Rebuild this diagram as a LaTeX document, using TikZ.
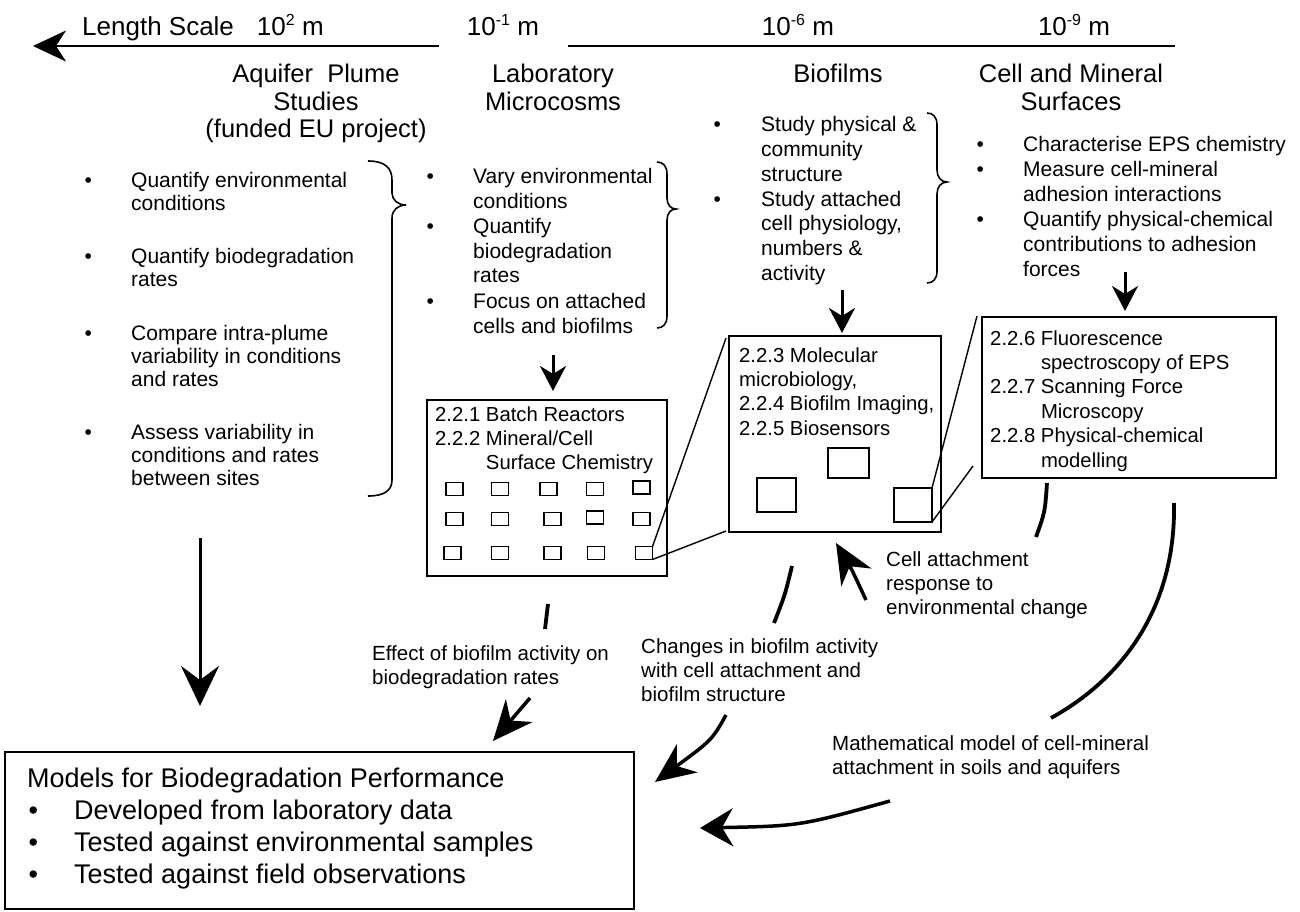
\documentclass[tikz,border=0pt]{standalone}
\usepackage{fontspec}
\setmainfont{Liberation Sans}
\usetikzlibrary{arrows.meta}
\newcommand\mybul[1]{\makebox[#1][l]{\textbullet}}
\newcommand\myind[1]{\hspace*{#1}}
\newcommand\tlft[1]{\begin{tabular}[t]{@{}l@{}}#1\end{tabular}}
\newcommand\tctr[1]{\begin{tabular}[t]{@{}c@{}}#1\end{tabular}}
\newcommand\mysup[1]{\raisebox{0.42em}{\fontsize{16}{16}\selectfont #1}}
\begin{document}
\begin{tikzpicture}[x=1pt,y=-1pt,
  hdr/.style={anchor=base west,inner sep=0pt,font=\fontsize{26}{30}\selectfont},
  ttl/.style={anchor=base,inner sep=0pt,font=\fontsize{25.5}{27.5}\selectfont},
  lst/.style={anchor=base west,inner sep=0pt,font=\fontsize{21}{25}\selectfont},
  btx/.style={anchor=base west,inner sep=0pt,font=\fontsize{20.3}{24.4}\selectfont},
  lbl/.style={anchor=base west,inner sep=0pt,font=\fontsize{20.5}{24}\selectfont},
  box/.style={draw,line width=1.8pt,anchor=north west,inner sep=0pt,outer sep=0pt},
  sq/.style={draw,line width=1.7pt,inner sep=0pt,outer sep=0pt,minimum width=17pt,minimum height=13pt},
  bsq/.style={draw,line width=1.6pt,inner sep=0pt,outer sep=0pt},
  brace/.style={line width=1.6pt},
  zl/.style={line width=1.4pt},
  sarr/.style={line width=3pt,-{Stealth[length=25pt,width=26pt,inset=8pt]}},
  barr/.style={line width=3.5pt,-{Stealth[length=40pt,width=35pt,inset=13pt]}},
  arc/.style={line width=3.8pt}
]
\useasboundingbox (0,0) rectangle (1300,912);

% ---------- length scale axis ----------
\node[hdr] (ls) at (82,36) {Length Scale\hspace{23pt}10\mysup{2} m};
\node[hdr,anchor=base] (s1) at (503,36) {10\mysup{-1} m};
\node[hdr,anchor=base] (s6) at (798,36) {10\mysup{-6} m};
\node[hdr,anchor=base] (s9) at (1074,36) {10\mysup{-9} m};
\coordinate (axR) at (1175,46);
\coordinate (axG2) at (568,46);
\coordinate (axG1) at (439,46);
\coordinate (axL) at (33,46);
\draw[line width=2pt] (axR) -- (axG2);
\draw[line width=2pt,-{Stealth[length=33pt,width=31pt,inset=10pt]}] (axG1) -- (axL);

% ---------- column titles ----------
\node[ttl] (taq) at (316,83) {\tctr{Aquifer\ \ Plume\\Studies\\(funded EU project)}};
\node[ttl] (tlab) at (553,83) {\tctr{Laboratory\\Microcosms}};
\node[ttl] (tbio) at (838,83) {Biofilms};
\node[ttl] (tcell) at (1071,83) {\tctr{Cell and Mineral\\Surfaces}};

% ---------- bullet lists ----------
\node[lst,font=\fontsize{21}{23}\selectfont] (laq) at (84.3,188) {\tlft{%
\mybul{46.7pt}Quantify environmental\\\myind{46.7pt}conditions\\[30pt]
\mybul{46.7pt}Quantify biodegradation\\\myind{46.7pt}rates\\[30pt]
\mybul{46.7pt}Compare intra-plume\\\myind{46.7pt}variability in conditions\\\myind{46.7pt}and rates\\[30pt]
\mybul{46.7pt}Assess variability in\\\myind{46.7pt}conditions and rates\\\myind{46.7pt}between sites}};

\node[lst] (llab) at (426.3,183) {\tlft{%
\mybul{46.7pt}Vary environmental\\\myind{46.7pt}conditions\\
\mybul{46.7pt}Quantify\\\myind{46.7pt}biodegradation\\\myind{46.7pt}rates\\
\mybul{46.7pt}Focus on attached\\\myind{46.7pt}cells and biofilms}};

\node[lst,font=\fontsize{21}{24.7}\selectfont] (lbio) at (713.3,132) {\tlft{%
\mybul{47.7pt}Study physical \&\\\myind{47.7pt}community\\\myind{47.7pt}structure\\
\mybul{47.7pt}Study attached\\\myind{47.7pt}cell physiology,\\\myind{47.7pt}numbers \&\\\myind{47.7pt}activity}};

\node[lst] (lcell) at (976.3,152) {\tlft{%
\mybul{46.7pt}Characterise EPS chemistry\\
\mybul{46.7pt}Measure cell-mineral\\\myind{46.7pt}adhesion interactions\\
\mybul{46.7pt}Quantify physical-chemical\\\myind{46.7pt}contributions to adhesion\\\myind{46.7pt}forces}};

% ---------- braces ----------
\draw[brace] (368,161) .. controls (385,161) and (392,168) .. (392,180) -- (392,193)
  .. controls (392,200) and (398,205) .. (406,205)
  .. controls (398,205) and (392,210) .. (392,218) -- (392,480)
  .. controls (392,490) and (385,496) .. (368,496);
\draw[brace] (657,162) .. controls (663,162) and (667,166) .. (667,174) -- (667,198)
  .. controls (667,205) and (671,209) .. (676,209)
  .. controls (671,209) and (667,213) .. (667,220) -- (667,316)
  .. controls (667,324) and (663,328) .. (657,328);
\draw[brace] (927,113) .. controls (933,113) and (937,117) .. (937,125) -- (937,170)
  .. controls (937,177) and (941,182) .. (947,182)
  .. controls (941,182) and (937,187) .. (937,194) -- (937,271)
  .. controls (937,279) and (933,283) .. (927,283);

% ---------- boxes ----------
\node[box,minimum width=240pt,minimum height=176pt] (batch) at (427,400) {};
\node[box,minimum width=212pt,minimum height=196pt] (bio) at (729,336) {};
\node[box,minimum width=294pt,minimum height=161pt] (cell) at (982,317) {};
\node[box,minimum width=629pt,minimum height=157pt] (models) at (5,752) {};

\node[btx] (batchT) at (435,421) {\tlft{2.2.1 Batch Reactors\\2.2.2 Mineral/Cell\\\phantom{2.2.2 }Surface Chemistry}};
\node[btx] (bioT) at (739,362) {\tlft{2.2.3 Molecular\\microbiology,\\2.2.4 Biofilm Imaging,\\2.2.5 Biosensors}};
\node[btx] (cellT) at (990,345) {\tlft{2.2.6 Fluorescence\\\phantom{2.2.6 }spectroscopy of EPS\\2.2.7 Scanning Force\\\phantom{2.2.7 }Microscopy\\2.2.8 Physical-chemical\\\phantom{2.2.8 }modelling}};

\node[anchor=base west,inner sep=0pt,font=\fontsize{27}{32.3}\selectfont] (modelsT) at (27,787) {\tlft{%
Models for Biodegradation Performance\\
\hspace*{1.3pt}\mybul{45.7pt}Developed from laboratory data\\
\hspace*{1.3pt}\mybul{45.7pt}Tested against environmental samples\\
\hspace*{1.3pt}\mybul{45.7pt}Tested against field observations}};

% ---------- small squares in batch box ----------
\node[sq] (s11) at (454.5,489) {};
\node[sq] (s12) at (500,489) {};
\node[sq] (s13) at (548.5,489) {};
\node[sq] (s14) at (595,489) {};
\node[sq] (s15) at (641.5,487.5) {};
\node[sq] (s21) at (454.5,519) {};
\node[sq] (s22) at (500,519) {};
\node[sq] (s23) at (552.5,519) {};
\node[sq] (s24) at (595,517.5) {};
\node[sq] (s25) at (641.5,519) {};
\node[sq] (s31) at (452.5,553) {};
\node[sq] (s32) at (500,553) {};
\node[sq] (s33) at (552.5,553) {};
\node[sq] (s34) at (596,553) {};
\node[sq] (s35) at (644,553) {};

% ---------- squares in biofilm box ----------
\node[bsq,minimum width=41pt,minimum height=30pt] (bA) at (848.5,463) {};
\node[bsq,minimum width=39pt,minimum height=34pt] (bB) at (776.5,495) {};
\node[bsq,minimum width=38pt,minimum height=34pt] (bC) at (913,505) {};

% ---------- zoom lines ----------
\coordinate (z1) at (726,338);
\coordinate (z2) at (726,531);
\coordinate (z3) at (977,316);
\coordinate (z4) at (973,466);
\draw[zl] (s35.north east) -- (z1);
\draw[zl] (s35.south east) -- (z2);
\draw[zl] (bC.north east) -- (z3);
\draw[zl] (bC.south east) -- (z4);

% ---------- straight down arrows ----------
\coordinate (labA) at (553,355);
\coordinate (labB) at (553,391);
\coordinate (bioA) at (842,290);
\coordinate (bioB) at (842,333);
\coordinate (cellA) at (1125,272);
\coordinate (cellB) at (1125,311);
\draw[sarr] (labA) -- (labB);
\draw[sarr] (bioA) -- (bioB);
\draw[sarr] (cellA) -- (cellB);
\coordinate (aqA) at (200,538);
\coordinate (aqB) at (200,706);
\draw[line width=3pt,-{Stealth[length=40pt,width=38pt,inset=14pt]}] (aqA) -- (aqB);

% ---------- labels ----------
\node[lbl] (lef) at (372,660) {\tlft{Effect of biofilm activity on\\biodegradation rates}};
\node[lbl] (lch) at (641,653) {\tlft{Changes in biofilm activity\\with cell attachment and\\biofilm structure}};
\node[lbl] (lca) at (886,566) {\tlft{Cell attachment\\response to\\environmental change}};
\node[lbl] (lma) at (832,750) {\tlft{Mathematical model of cell-mineral\\attachment in soils and aquifers}};

% ---------- broken curved connectors ----------
\coordinate (ef1) at (548,604);
\coordinate (ef2) at (545,629);
\coordinate (ef3) at (530,698);
\coordinate (ef4) at (493,741);
\draw[arc] (ef1) -- (ef2);
\draw[barr] (ef3) -- (ef4);

\coordinate (ch1) at (792,566);
\coordinate (ch2) at (774,623);
\coordinate (ch3) at (726,715);
\coordinate (ch4) at (655,782);
\draw[arc] (ch1) .. controls (785,595) .. (ch2);
\draw[barr] (ch3) .. controls (712,740) .. (ch4);

\coordinate (ca1) at (1047,483);
\coordinate (ca2) at (1036,537);
\coordinate (ca3) at (866,600);
\coordinate (ca4) at (836,543);
\draw[arc] (ca1) .. controls (1045,512) .. (ca2);
\draw[barr] (ca3) .. controls (852,570) .. (ca4);

\coordinate (ma1) at (1174,503);
\coordinate (ma2) at (1051,718);
\coordinate (ma3) at (890,801);
\coordinate (ma4) at (700,828);
\draw[arc] (ma1) .. controls (1176,610) and (1120,680) .. (ma2);
\draw[line width=3.5pt,-{Stealth[length=33pt,width=38pt,inset=11pt]}] (ma3) .. controls (800,826) .. (ma4);
\end{tikzpicture}
\end{document}
